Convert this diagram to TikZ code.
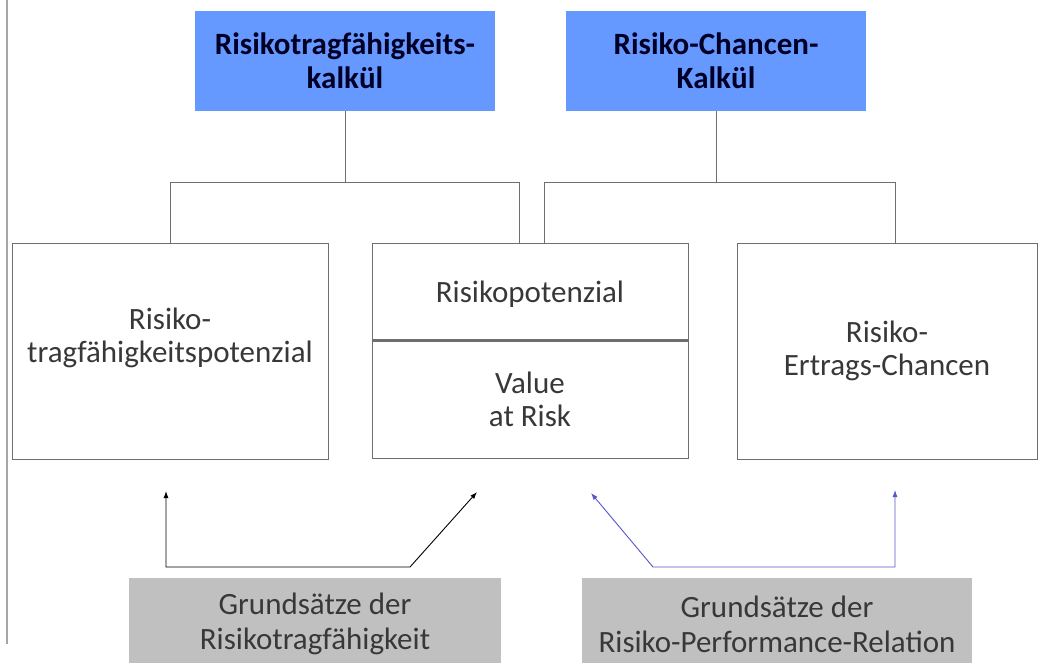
\documentclass[tikz,border=0pt]{standalone}
\usepackage{fontspec}
\setmainfont{Carlito}
\usetikzlibrary{positioning, arrows.meta}
\definecolor{kalkblue}{HTML}{6699FF}
\definecolor{grundgray}{HTML}{C0C0C0}
\definecolor{linegray}{HTML}{6E6E6E}
\definecolor{textgray}{HTML}{383838}
\definecolor{relblue}{HTML}{5555CC}

\begin{document}
\begin{tikzpicture}[x=1pt, y=-1pt,
        kalkbox/.style={fill=kalkblue, minimum width=300pt, minimum height=100pt, align=center,
            font=\fontsize{31}{34}\selectfont\bfseries, text=black!85!blue},
        potbox/.style={draw=linegray, line width=1pt, fill=white, align=center,
            font=\fontsize{31}{33}\selectfont, text=textgray},
        grundbox/.style={fill=grundgray, minimum width=372pt, minimum height=92pt, align=center,
            font=\fontsize{31}{35}\selectfont, text=textgray, anchor=north},
        conn/.style={draw=linegray, line width=1pt},
        rel/.style={line width=0.9pt, {Latex[length=7pt,width=5pt]}-{Latex[length=7pt,width=5pt]}}]
                \useasboundingbox (0,0) rectangle (1040,662);
                \fill[white] (0,0) rectangle (1040,662);
                \draw[gray!70, line width=1.6pt] (7,0) -- (7,644);

                % Kalkuele:
            	\node[kalkbox] (rtk) at (345,61) {Risikotragfähigkeits-\\kalkül};
            	\node[kalkbox] (rck) at (716,61) {Risiko-Chancen-\\Kalkül};

                % Potenziale:
                \node[potbox, minimum width=316pt, minimum height=216pt, text depth=31pt] (rtp) at (170,351) {Risiko-\\tragfähigkeitspotenzial};
                \node[potbox, minimum width=316pt, minimum height=97pt, text depth=0pt] (rp) at (530,291.5) {Risikopotenzial};
                \node[potbox, minimum width=316pt, minimum height=117pt, below=0pt of rp] (var) {Value\\at Risk};
                \node[potbox, minimum width=300pt, minimum height=216pt] (rec) at (887,351) {Risiko-\\Ertrags-Chancen};
                \draw[linegray, line width=2.4pt] (rp.south west) -- (rp.south east);

                % Verbindungen:
                \draw[conn] (rtk.south) -- ++(0,72);
                \draw[conn] (rtp.north) -- ++(0,-60) -| ([xshift=-11pt]rp.north);
                \draw[conn] (rck.south) -- ++(0,72);
                \draw[conn] ([xshift=14pt]rp.north) -- ++(0,-60) -| ([xshift=8pt]rec.north);

                % Grundsaetze:
                \node[grundbox] (gtf) at (315,578) {Grundsätze der\\Risikotragfähigkeit};
                \node[grundbox, minimum width=390pt] (gpr) at (777,578) {Grundsätze der\\Risiko-Performance-Relation};

                \coordinate (a1) at (166,491);
                \coordinate (k1) at (410,567);
                \coordinate (a2) at (477,492);
                \draw[rel] (a1) |- (k1) -- (a2);
                \coordinate (a3) at (591,493);
                \coordinate (k2) at (653,567);
                \coordinate (a4) at (895,490);
                \draw[rel, relblue] (a3) -- (k2) -| (a4);
            \end{tikzpicture}
\end{document}
